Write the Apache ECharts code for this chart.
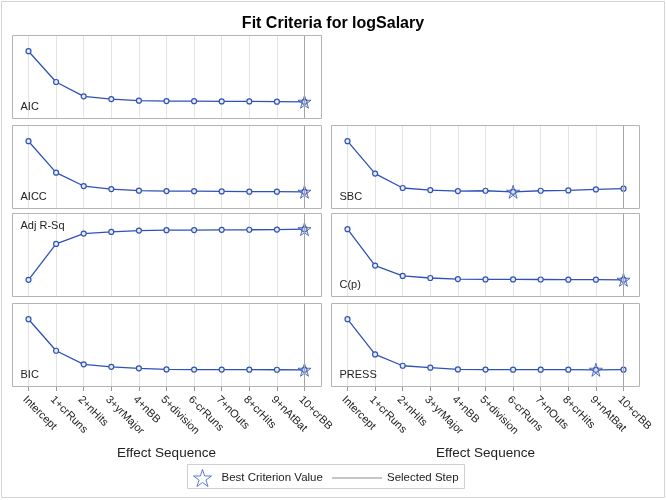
<!DOCTYPE html>
<html>
<head>
<meta charset="utf-8">
<script src="https://cdn.jsdelivr.net/npm/echarts@6/dist/echarts.min.js"></script>
<style>html,body{margin:0;padding:0;background:#fff;}#c{width:666px;height:500px;}</style>
</head>
<body>
<div id="c"></div>
<script>
// ---- data ----
const categories = ['Intercept','1+crRuns','2+nHits','3+yrMajor','4+nBB','5+division','6-crRuns','7+nOuts','8+crHits','9+nAtBat','10+crBB'];
const aic    = [-98, -282, -368, -384, -394, -396, -396.5, -398, -398.5, -399.5, -400.5];
const aicc   = [-94, -282, -362, -380, -390, -392, -392.5, -394, -395.5, -396, -396.5];
const adjRSq = [0, 0.397, 0.512, 0.530, 0.545, 0.549, 0.550, 0.553, 0.554, 0.556, 0.560];
const bic    = [-104, -276, -350, -364, -372, -378, -378.5, -379, -379.5, -379.8, -380];
const sbc    = [-46, -234, -318, -330, -336, -334, -340, -334, -332, -326, -322];
const cp     = [365, 110, 37.5, 22.5, 15, 12.5, 12.3, 12, 11, 10.6, 10];
const press  = [206.6, 121.8, 94.6, 89.8, 85.8, 85.3, 85.2, 85.1, 85.05, 84.8, 85.0];
const selectedStep = '10+crBB';
const titleText = 'Fit Criteria for logSalary';
const xAxisTitle = 'Effect Sequence';
const legendBest = 'Best Criterion Value';
const legendStep = 'Selected Step';

// ---- panels ----
const panels = [
  {label:'AIC',      data:aic,    best:'min', col:0, row:0, lab:'bottom'},
  {label:'AICC',     data:aicc,   best:'min', col:0, row:1, lab:'bottom'},
  {label:'Adj R-Sq', data:adjRSq, best:'max', col:0, row:2, lab:'top'},
  {label:'BIC',      data:bic,    best:'min', col:0, row:3, lab:'bottom'},
  {label:'SBC',      data:sbc,    best:'min', col:1, row:1, lab:'bottom'},
  {label:'C(p)',     data:cp,     best:'min', col:1, row:2, lab:'bottom'},
  {label:'PRESS',    data:press,  best:'min', col:1, row:3, lab:'bottom'}
];

const FONT = '"Liberation Sans", Arial, sans-serif';
const BLUE = '#2F52B6';
const colX = [12.5, 331.5], colW = [309, 308];
const rowY = [35, 125, 213, 303], rowH = 83;
const inset = 16, plotW = 276, padPx = 16.2;

const starPath = 'path://M50,2 L61.2,36.3 L97.6,36.3 L68.2,57.7 L79.4,92 L50,70.8 L20.6,92 L31.8,57.7 L2.4,36.3 L38.8,36.3 Z';
const linePath = 'path://M0,0 L50,0 L50,1 L0,1 Z';

const grids = [], xAxes = [], yAxes = [], series = [], graphics = [];

graphics.push({type:'rect', shape:{x:1.5, y:1.5, width:663, height:496}, style:{fill:'none', stroke:'#d4d4d4', lineWidth:1}, silent:true});

panels.forEach((p, i) => {
  const top = rowY[p.row];
  const left = colX[p.col] + inset;
  grids.push({left: left, top: top, width: plotW, height: rowH});
  const bottomRow = p.row === 3;
  xAxes.push({
    type:'category', gridIndex:i, data:categories, boundaryGap:false,
    axisLine:{show:false},
    axisTick:{show:bottomRow, length:5, interval:0, lineStyle:{color:'#9a9a9a'}},
    axisLabel:{show:bottomRow, rotate:-45, interval:0, fontSize:11, fontFamily:FONT, color:'#222', margin:8, verticalAlign:'top'},
    splitLine:{show:true, interval:0, lineStyle:{color:'#e4e4e4', width:1}},
    name: bottomRow ? xAxisTitle : '', nameLocation:'middle', nameGap:60,
    nameTextStyle:{fontSize:13.5, fontFamily:FONT, color:'#222'}
  });
  const mn = Math.min(...p.data), mx = Math.max(...p.data);
  const R = mx - mn;
  const pad = R * padPx / (rowH - 2*padPx);
  yAxes.push({type:'value', gridIndex:i, min: mn - pad, max: mx + pad,
    axisLine:{show:false}, axisTick:{show:false}, axisLabel:{show:false}, splitLine:{show:false}});
  series.push({
    type:'line', name:p.label, xAxisIndex:i, yAxisIndex:i, data:p.data,
    symbol:'circle', symbolSize:5, showSymbol:true,
    lineStyle:{color:BLUE, width:1.3},
    itemStyle:{color:'#e8ecf8', borderColor:BLUE, borderWidth:1.2},
    markLine:{silent:true, symbol:'none', label:{show:false}, animation:false,
      lineStyle:{color:'#a4a4a4', type:'solid', width:1},
      data:[{xAxis:selectedStep}]},
    animation:false, z:3
  });
  let bi = 0;
  p.data.forEach((v, k) => { if (p.best === 'min' ? v <= p.data[bi] : v >= p.data[bi]) bi = k; });
  series.push({
    type:'scatter', name:legendBest, xAxisIndex:i, yAxisIndex:i,
    data:[[categories[bi], p.data[bi]]],
    symbol:starPath, symbolSize:13,
    itemStyle:{color:'rgba(180,195,235,0.35)', borderColor:BLUE, borderWidth:1},
    animation:false, z:4
  });
  // frame
  graphics.push({type:'rect', shape:{x:colX[p.col], y:top + 0.5, width:colW[p.col], height:rowH}, style:{fill:'none', stroke:'#b4b4b4', lineWidth:1}, silent:true, z:10});
  // panel label
  graphics.push({type:'text', x: colX[p.col] + 8, y: p.lab === 'top' ? top + 12.5 : top + rowH - 11,
    style:{text:p.label, font:'11px ' + FONT, fill:'#222', align:'left', verticalAlign:'middle'}, silent:true, z:11});
});

// dummy series for selected step legend entry
series.push({type:'line', name:legendStep, xAxisIndex:0, yAxisIndex:0, data:[], symbol:'none',
  lineStyle:{color:'#8c8c8c', width:1}, itemStyle:{color:'#8c8c8c'}});

// legend border
graphics.push({type:'rect', shape:{x:187.5, y:464.5, width:277, height:24}, style:{fill:'none', stroke:'#cfcfcf', lineWidth:1}, silent:true});

const chart = echarts.init(document.getElementById('c'), null, {renderer:'canvas'});
chart.setOption({
  animation:false,
  backgroundColor:'#fff',
  title:{text:titleText, left:'center', top:11, textStyle:{fontSize:16, fontWeight:'bold', fontFamily:FONT, color:'#000'}},
  grid:grids, xAxis:xAxes, yAxis:yAxes, series:series,
  legend:[
    {left:188, top:464, itemWidth:28, itemHeight:17, itemGap:0, selectedMode:false,
     textStyle:{fontSize:11.5, fontFamily:FONT, color:'#222'},
     data:[{name:legendBest, icon:starPath, itemStyle:{color:'#fff', borderColor:'#3a5cc4', borderWidth:1}}]},
    {left:327, top:467, itemWidth:50, itemHeight:17, selectedMode:false,
     textStyle:{fontSize:11.5, fontFamily:FONT, color:'#222'},
     data:[{name:legendStep, icon:linePath, itemStyle:{color:'#8c8c8c', borderWidth:0}}]}
  ],
  graphic:graphics
});
</script>
</body>
</html>
